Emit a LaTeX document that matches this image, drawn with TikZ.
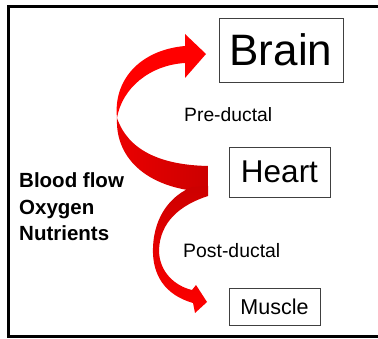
\documentclass[tikz,border=0pt]{standalone}
\usepackage{fontspec}
\setmainfont{Liberation Sans}

\begin{document}
\begin{tikzpicture}[
    x=1pt,
    y=-1pt,
    organ/.style={draw=black!75,line width=0.9pt,inner sep=0pt},
    duct/.style={anchor=base west,inner sep=0pt}
]

% Picture area
\useasboundingbox (0,0) rectangle (378,339);

% Frame, open on the right
\draw[line width=3pt] (392,6.5) -- (8.3,6.5) -- (8.3,336.8) -- (392,336.8);

% Upper ribbon: dark back side, from the heart to the twist
\shade[left color=red!92!black,right color=red!80!black]
    (117,118)
    .. controls (128,150) and (160,165) .. (208,166)
    -- (208,192)
    .. controls (150,190) and (115,160) .. (117,118)
    -- cycle;

% Upper ribbon: bright front side, up to the brain
\fill[red]
    (117,118)
    .. controls (113,80) and (140,50) .. (185,46)
    -- (185,34) -- (206,54) -- (185,78) -- (185,63)
    .. controls (150,65) and (122,88) .. (117,118)
    -- cycle;

% Lower ribbon, from the heart down to the muscle
\shade[top color=red!80!black,bottom color=red]
    (192,187) -- (208,186) -- (208,196)
    .. controls (180,205) and (160,222) .. (159,250)
    .. controls (159,272) and (175,286) .. (192,290)
    -- (196,285) -- (207,302) -- (195,313) -- (193,303)
    .. controls (165,295) and (152,275) .. (153,248)
    .. controls (154,215) and (172,195) .. (192,187)
    -- cycle;

% Organ boxes
\node[organ,minimum width=124pt,minimum height=64pt,
      font=\fontsize{44}{50}\selectfont] (brain) at (281,50) {Brain};
\node[organ,minimum width=101pt,minimum height=50pt,
      font=\fontsize{31.5}{36}\selectfont] (heart) at (279.5,172) {Heart};
\node[organ,minimum width=91pt,minimum height=37pt,
      font=\fontsize{21.5}{25}\selectfont] (muscle) at (274.5,306.5) {Muscle};

% Labels of the two paths
\node[duct,font=\fontsize{19.3}{23}\selectfont] (pre) at (184,121.7)
    {Pre-ductal};
\node[duct,font=\fontsize{19.4}{23}\selectfont] (post) at (183,257.3)
    {Post-ductal};

% What is carried
\node[anchor=north west,inner sep=0pt,align=left,
      font=\bfseries\fontsize{20.5}{26.7}\selectfont] (supply) at (19,172.3)
    {Blood flow\\Oxygen\\Nutrients};

\end{tikzpicture}
\end{document}
